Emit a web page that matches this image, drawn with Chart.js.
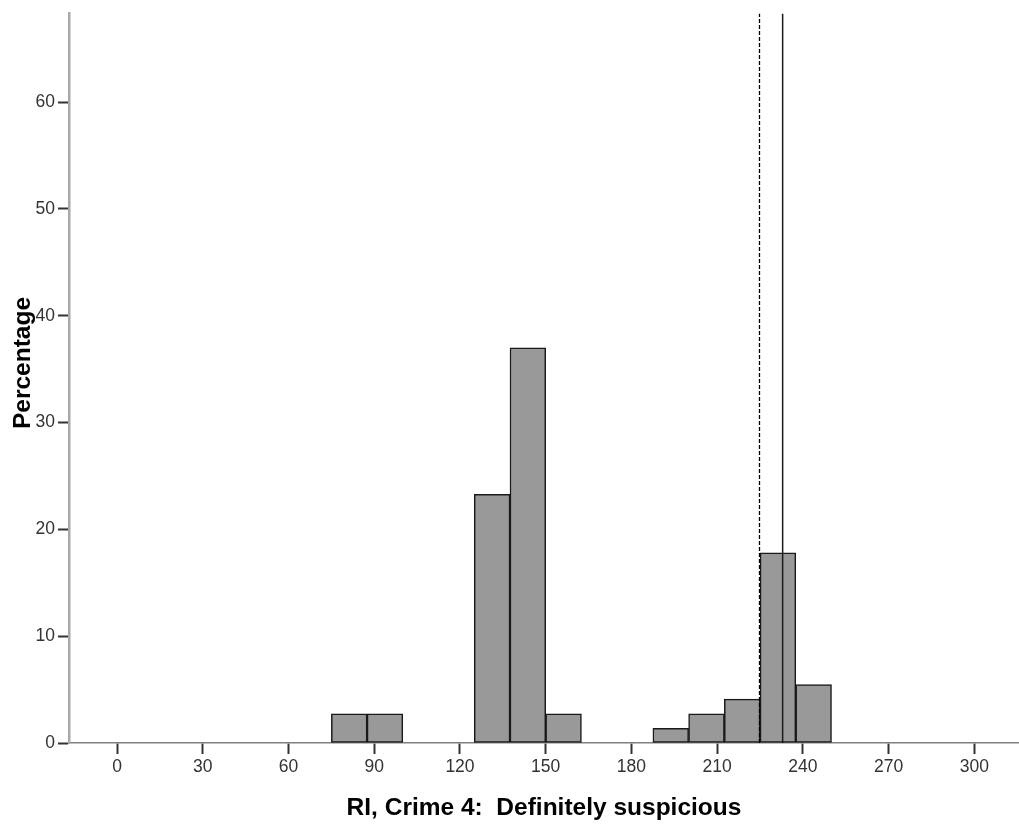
<!DOCTYPE html>
<html>
<head>
<meta charset="utf-8">
<script src="https://cdn.jsdelivr.net/npm/chart.js@4.4.1/dist/chart.umd.min.js"></script>
<style>
  html, body { margin: 0; padding: 0; background: #fff; }
  #wrap { width: 1019px; height: 825px; }
</style>
</head>
<body>
<div id="wrap"><canvas id="histChart" width="1019" height="825"></canvas></div>
<script>
// Histogram bins (12.5 wide), bin centres and percentage heights
const binCenters = [81.25, 93.75, 131.25, 143.75, 156.25, 193.75, 206.25, 218.75, 231.25, 243.75];
const binPercent = [2.74, 2.74, 23.29, 36.99, 2.74, 1.37, 2.74, 4.11, 17.81, 5.48];

// Reference lines
const dashedLineX = 224.8;
const solidLineX = 232.9;

// Axis ticks
const xTicks = [0, 30, 60, 90, 120, 150, 180, 210, 240, 270, 300];
const yTicks = [0, 10, 20, 30, 40, 50, 60];
const xRange = [-16.8, 315.6];
const yRange = [0, 68.3];

const xTitle = 'RI, Crime 4:  Definitely suspicious';
const yTitle = 'Percentage';

const FONT = '"Liberation Sans", Arial, Helvetica, sans-serif';

// y axis title, drawn by hand so it sits where SPSS puts it
const yTitlePlugin = {
    id: 'yTitle',
    afterDraw(chart) {
        const ctx = chart.ctx;
        ctx.save();
        ctx.translate(23, 363);
        ctx.rotate(-Math.PI / 2);
        ctx.font = 'bold 24.5px ' + FONT;
        ctx.fillStyle = '#000';
        ctx.textAlign = 'center';
        ctx.textBaseline = 'middle';
        ctx.fillText(yTitle, 0, 0);
        ctx.restore();
    }
};

const ctx = document.getElementById('histChart').getContext('2d');
new Chart(ctx, {
    type: 'bar',
    data: {
        datasets: [
            {
                type: 'line',
                data: [{ x: dashedLineX, y: yRange[0] }, { x: dashedLineX, y: yRange[1] }],
                borderColor: '#000',
                borderWidth: 1.3,
                borderDash: [4, 2],
                pointRadius: 0,
                order: 0
            },
            {
                type: 'line',
                data: [{ x: solidLineX, y: yRange[0] }, { x: solidLineX, y: yRange[1] }],
                borderColor: '#1a1a1a',
                borderWidth: 1.5,
                pointRadius: 0,
                order: 0
            },
            {
                type: 'bar',
                data: binCenters.map((c, i) => ({ x: c, y: binPercent[i] })),
                backgroundColor: '#999999',
                borderColor: '#1a1a1a',
                borderWidth: 1.5,
                borderSkipped: false,
                barPercentage: 1.0,
                categoryPercentage: 1.0,
                order: 1
            }
        ]
    },
    options: {
        responsive: false,
        animation: false,
        layout: { padding: { top: 12, right: 0, bottom: 0, left: 0 } },
        plugins: {
            legend: { display: false },
            tooltip: { enabled: false }
        },
        scales: {
            x: {
                type: 'linear',
                min: xRange[0],
                max: xRange[1],
                offset: false,
                afterBuildTicks: (scale) => {
                    scale.ticks = xTicks.map(v => ({ value: v }));
                },
                afterFit: (scale) => { scale.height = 82; },
                grid: {
                    display: true,
                    drawOnChartArea: false,
                    drawTicks: true,
                    tickLength: 11,
                    tickWidth: 2,
                    tickColor: '#333',
                    offset: false
                },
                border: { display: true, color: '#808080', width: 1.5 },
                ticks: {
                    autoSkip: false,
                    maxRotation: 0,
                    padding: 3,
                    color: '#333',
                    font: { family: FONT, size: 17.5 }
                },
                title: {
                    display: true,
                    text: xTitle,
                    color: '#000',
                    font: { family: FONT, size: 24.5, weight: 'bold' },
                    padding: { top: 0, bottom: 2 }
                }
            },
            y: {
                type: 'linear',
                min: yRange[0],
                max: yRange[1],
                afterBuildTicks: (scale) => {
                    scale.ticks = yTicks.map(v => ({ value: v }));
                },
                afterFit: (scale) => { scale.width = 69; },
                grid: {
                    display: true,
                    drawOnChartArea: false,
                    drawTicks: true,
                    tickLength: 11,
                    tickWidth: 2,
                    tickColor: '#333'
                },
                border: { display: true, color: '#a8a8a8', width: 2.5 },
                ticks: {
                    padding: 3,
                    color: '#333',
                    font: { family: FONT, size: 17.5 }
                }
            }
        }
    },
    plugins: [yTitlePlugin]
});
</script>
</body>
</html>
